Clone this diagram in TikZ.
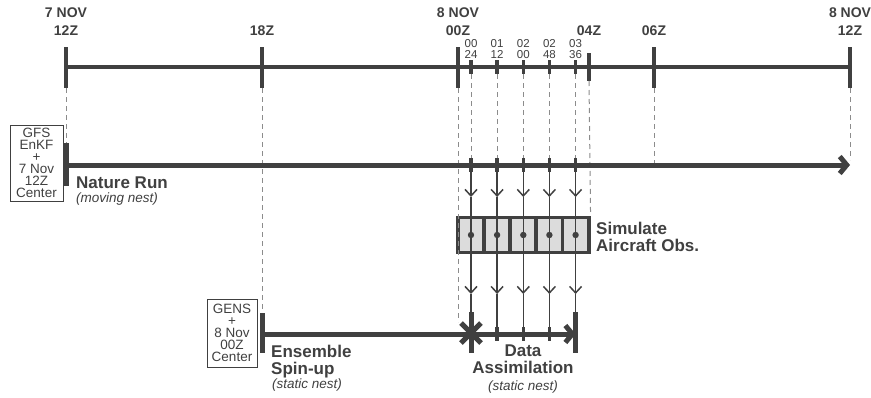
\documentclass[tikz,border=0pt]{standalone}
\usepackage{fontspec}
\setmainfont{Liberation Sans}
\usetikzlibrary{arrows.meta}
\definecolor{ink}{HTML}{404040}
\definecolor{guide}{HTML}{8C8C8C}
\definecolor{cellgray}{HTML}{DCDCDC}

\begin{document}
\begin{tikzpicture}[x=1pt,y=-1pt,
  axis/.style={ink,line width=3.5pt},
  bigtick/.style={ink,line width=4.5pt},
  smalltick/.style={ink,line width=3.5pt},
  run/.style={ink,line width=5pt},
  guideline/.style={guide,line width=1pt,dash pattern=on 5pt off 4pt},
  feed/.style={ink,line width=1.5pt},
  barb/.style={-{Straight Barb[length=6.5pt,width=12pt]}},
  chevron/.style={-{Straight Barb[length=7pt,width=17pt]}},
  obscell/.style={draw=ink,fill=cellgray,line width=3.8pt,minimum width=26.13pt,minimum height=35pt,inner sep=0pt},
  datelabel/.style={font=\bfseries\fontsize{14}{18}\selectfont,text=ink,align=center,inner sep=0pt,anchor=north},
  minorlabel/.style={font=\fontsize{11.5}{11}\selectfont,text=ink,align=center,inner sep=0pt,anchor=north},
  runlabel/.style={font=\bfseries\fontsize{17}{17}\selectfont,text=ink,inner sep=0pt},
  notelabel/.style={font=\itshape\fontsize{13.5}{14}\selectfont,text=ink,inner sep=0pt},
  initbox/.style={draw=ink,line width=1pt,font=\fontsize{13.5}{12}\selectfont,text=ink,align=center,inner sep=0pt}]

\useasboundingbox (0,0) rectangle (871,397);

% time axis
\coordinate (axS) at (66,67); \coordinate (axE) at (850,67);
\draw[axis] (axS) -- (axE);
\foreach \x/\name in {66/tA,262/tB,458/tC,654/tE,850/tF}{
  \draw[bigtick] (\x,47) -- (\x,88);
  \coordinate (\name) at (\x,88);
}
\draw[bigtick] (589,53) -- (589,81); \coordinate (tD) at (589,81);

\node[datelabel] (lA) at (66,8) {7 NOV\\12Z};
\node[datelabel] (lB) at (262,26) {18Z};
\node[datelabel] (lC) at (458,8) {8 NOV\\00Z};
\node[datelabel] (lD) at (589,26) {04Z};
\node[datelabel] (lE) at (654,26) {06Z};
\node[datelabel] (lF) at (850,8) {8 NOV\\12Z};

% observation times every 48 min
\foreach \x/\hh/\mm [count=\i] in {471/00/24,497.1/01/12,523.3/02/00,549.4/02/48,575.6/03/36}{
  \draw[smalltick] (\x,60) -- (\x,74);
  \node[minorlabel] (o\i) at (\x,39) {\hh\\\mm};
  \coordinate (m\i) at (\x,74);
  \coordinate (g\i) at (\x,158);
  \coordinate (n\i) at (\x,165);
  \coordinate (a\i) at (\x,197);
  \coordinate (b\i) at (\x,294);
  \coordinate (d\i) at (\x,334);
  \node[obscell] (c\i) at (\x,235) {};
}

% bars
\coordinate (nrS) at (66,165); \coordinate (nrE) at (850,165);
\coordinate (spS) at (262,334);
\coordinate (nrTop) at (66,143); \coordinate (spTop) at (262,313);
\coordinate (daTop) at (458,322);
\coordinate (eTop) at (654,165); \coordinate (fTop) at (850,160);

% guides
\draw[guideline] (tA) -- (nrTop);
\draw[guideline] (tB) -- (spTop);
\draw[guideline] (tC) -- (daTop);
\draw[guideline] (tD) -- (c5.north east);
\draw[guideline] (tE) -- (eTop);
\draw[guideline] (tF) -- (fTop);
\foreach \i in {1,...,5} \draw[guideline] (m\i) -- (g\i);

% nature run
\draw[run,chevron] (nrS) -- (nrE);
\draw[run] (66,143) -- (66,186);
\foreach \i in {1,...,5} \draw[smalltick] ([yshift=7pt]n\i) -- ([yshift=-7pt]n\i);

% spin-up and data assimilation
\draw[run] (spS) -- (d1);
\draw[run,chevron] (d1) -- (d5);
\draw[run] (262,313) -- (262,353);
\draw[run] (471,312) -- (471,353);
\draw[run] (461,323) -- (481,343); \draw[run] (461,343) -- (481,323);
\draw[run] (575.6,312) -- (575.6,353);
\foreach \i in {2,3,4} \draw[smalltick] ([yshift=7pt]d\i) -- ([yshift=-7pt]d\i);

% feeds through the simulator
\foreach \i in {1,...,5}{
  \draw[feed,barb] (n\i) -- (a\i);
  \draw[feed] (a\i) -- (c\i.center);
  \draw[feed,barb] (c\i.center) -- (b\i);
  \draw[feed] (b\i) -- (d\i);
  \fill[ink] (c\i.center) circle (3.2pt);
}

% labels
\node[initbox,minimum width=53pt,minimum height=76pt] (gfs) at (36.5,163) {GFS\\EnKF\\+\\7 Nov\\12Z\\Center};
\node[initbox,minimum width=50pt,minimum height=68pt] (gens) at (232,333) {GENS\\+\\8 Nov\\00Z\\Center};
\node[runlabel,anchor=north west] (nrL) at (76,177) {Nature Run};
\node[notelabel,anchor=north west] (nrN) at (76,193) {(moving nest)};
\node[runlabel,anchor=north west,align=left] (spL) at (271,345) {Ensemble\\Spin-up};
\node[notelabel,anchor=north west] (spN) at (272,379) {(static nest)};
\node[runlabel,anchor=north,align=center] (daL) at (523,345) {Data\\Assimilation};
\node[notelabel,anchor=north] (daN) at (523,381) {(static nest)};
\node[runlabel,anchor=north west,align=left] (simL) at (596,222) {Simulate\\Aircraft Obs.};
\end{tikzpicture}
\end{document}
